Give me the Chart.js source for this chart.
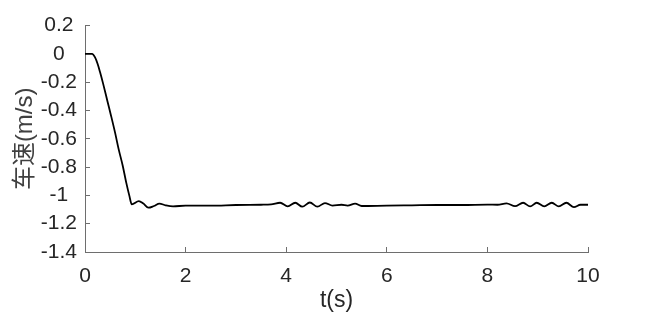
<!DOCTYPE html>
<html>
<head>
<meta charset="utf-8">
<script src="https://cdn.jsdelivr.net/npm/chart.js@4.4.1/dist/chart.umd.min.js"></script>
<style>
  html, body { margin: 0; padding: 0; background: #fff; }
  #wrap { width: 650px; height: 317px; }
</style>
</head>
<body>
<div id="wrap"><canvas id="speedChart" width="650" height="317"></canvas></div>
<script>
// time (s) and vehicle speed (m/s)
const timeS = [0, 0.1, 0.14, 0.2, 0.25, 0.3, 0.36, 0.45, 0.52, 0.6, 0.67, 0.75,
    0.82, 0.88, 0.93, 1.07, 1.16, 1.26, 1.37, 1.48, 1.6, 1.75, 2.0, 2.5, 3.0,
    3.5, 3.7, 3.88, 4.03, 4.18, 4.32, 4.47, 4.62, 4.77, 4.92, 5.1, 5.22, 5.37,
    5.5, 6.0, 6.5, 7.0, 7.5, 8.0, 8.2, 8.38, 8.55, 8.71, 8.85, 8.98, 9.13,
    9.28, 9.42, 9.57, 9.72, 9.85, 10];
const speed = [0, 0, 0, -0.025, -0.07, -0.13, -0.21, -0.34, -0.44, -0.56, -0.675, -0.79,
    -0.91, -1.0, -1.063, -1.04, -1.058, -1.087, -1.075, -1.058, -1.07, -1.078, -1.072, -1.072, -1.068,
    -1.066, -1.064, -1.052, -1.078, -1.052, -1.08, -1.05, -1.08, -1.054, -1.072, -1.066, -1.072, -1.058,
    -1.075, -1.072, -1.07, -1.068, -1.068, -1.065, -1.066, -1.056, -1.076, -1.052, -1.078, -1.052, -1.078,
    -1.052, -1.078, -1.052, -1.083, -1.066, -1.066];
const xTicks = [0, 2, 4, 6, 8, 10];
const yTicks = [0.2, 0, -0.2, -0.4, -0.6, -0.8, -1, -1.2, -1.4];

const axisColor = '#6e6e6e';
const textColor = '#262626';
const fontFamily = '"Liberation Sans", Arial, "Noto Sans CJK SC", sans-serif';

var points = timeS.map(function (t, i) { return { x: t, y: speed[i] }; });

var ctx = document.getElementById('speedChart').getContext('2d');
var speedChart = new Chart(ctx, {
    type: 'line',
    data: {
        datasets: [{
            data: points,
            borderColor: '#000',
            borderWidth: 1.8,
            pointRadius: 0,
            tension: 0.4,
            cubicInterpolationMode: 'monotone',
            fill: false
        }]
    },
    options: {
        responsive: false,
        animation: false,
        layout: { padding: { left: 0, top: 24, right: 62, bottom: 0 } },
        plugins: { legend: { display: false }, tooltip: { enabled: false } },
        scales: {
            x: {
                type: 'linear',
                min: 0,
                max: 10,
                afterBuildTicks: function (scale) {
                    scale.ticks = xTicks.map(function (v) { return { value: v }; });
                },
                afterFit: function (scale) { scale.height = 65; },
                grid: { drawOnChartArea: false, tickLength: -5, color: axisColor },
                border: { color: axisColor, width: 1 },
                ticks: { color: textColor, font: { family: fontFamily, size: 21 }, padding: 17, maxRotation: 0 },
                title: {
                    display: true,
                    text: 't(s)',
                    color: textColor,
                    font: { family: fontFamily, size: 23 },
                    padding: { top: 0, bottom: 3 }
                }
            },
            y: {
                min: -1.4,
                max: 0.2,
                afterBuildTicks: function (scale) {
                    scale.ticks = yTicks.map(function (v) { return { value: v }; });
                },
                afterFit: function (scale) { scale.width = 85; },
                grid: { drawOnChartArea: false, tickLength: -5, color: axisColor },
                border: { color: axisColor, width: 1 },
                ticks: {
                    color: textColor,
                    crossAlign: 'center',
                    font: { family: fontFamily, size: 21 },
                    padding: 13,
                    callback: function (v) { return String(Math.round(v * 10) / 10); }
                },
                title: {
                    display: true,
                    text: '车速(m/s)',
                    color: '#404040',
                    font: { family: fontFamily, size: 24 },
                    padding: { top: 11, bottom: 0 }
                }
            }
        }
    }
});
</script>
</body>
</html>
